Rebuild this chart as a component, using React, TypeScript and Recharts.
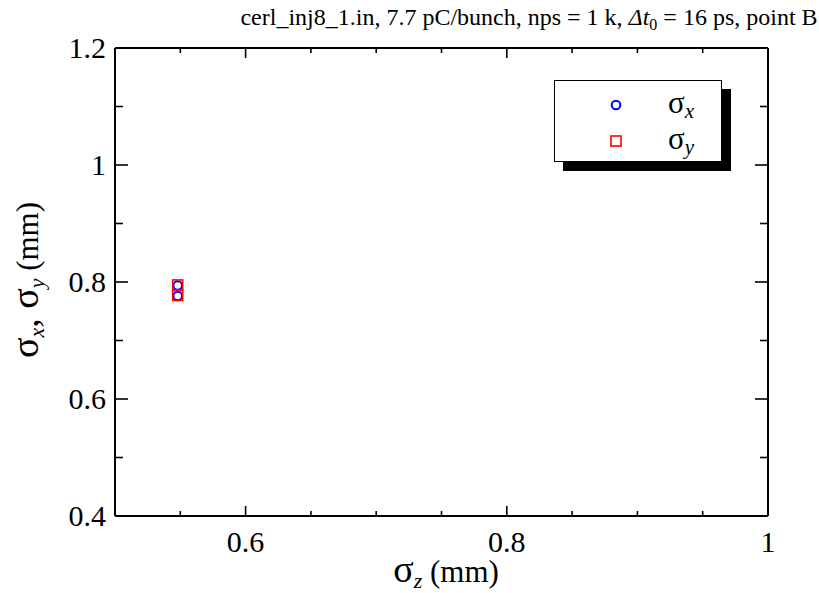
import React from 'react';
import { ScatterChart, Scatter, XAxis, YAxis, ReferenceLine } from 'recharts';

const sigmaZ = [0.548, 0.548];
const sigmaX = [0.794, 0.776];
const sigmaY = [0.795, 0.777];

const xTicks = [0.5, 0.55, 0.6, 0.65, 0.7, 0.75, 0.8, 0.85, 0.9, 0.95, 1.0];
const yTicks = [0.4, 0.5, 0.6, 0.7, 0.8, 0.9, 1.0, 1.1, 1.2];
const xMajor = ['0.6', '0.8', '1'];
const yMajor = ['0.4', '0.6', '0.8', '1', '1.2'];

const dataX = sigmaZ.map((z, i) => ({ z, v: sigmaX[i] }));
const dataY = sigmaZ.map((z, i) => ({ z, v: sigmaY[i] }));

const W = 819;
const H = 593;
const XH = 30;
const YW = 60;
const M = { top: 48, right: 51, bottom: 77 - XH, left: 115 - YW };
const PW = W - 115 - 51;
const PH = H - 48 - 77;
const FONT = '"Liberation Serif", "DejaVu Serif", serif';

const fmt = (v: number) => String(parseFloat(v.toFixed(2)));

const XTick = (props: any) => {
  const { x, y, payload } = props;
  const label = fmt(payload.value);
  const major = xMajor.includes(label);
  const len = major ? 10 : 5;
  return (
    <g>
      <line x1={x} x2={x} y1={y} y2={y - len} stroke="#000" strokeWidth={1.6} />
      <line x1={x} x2={x} y1={y - PH} y2={y - PH + len} stroke="#000" strokeWidth={1.6} />
      {major && (
        <text x={x} y={y + 36} textAnchor="middle" fontFamily={FONT} fontSize={30} fill="#000">
          {label}
        </text>
      )}
    </g>
  );
};

const YTick = (props: any) => {
  const { x, y, payload } = props;
  const label = fmt(payload.value);
  const major = yMajor.includes(label);
  const len = major ? 13 : 8;
  return (
    <g>
      <line x1={x} x2={x + len} y1={y} y2={y} stroke="#000" strokeWidth={1.6} />
      <line x1={x + PW} x2={x + PW - len} y1={y} y2={y} stroke="#000" strokeWidth={1.6} />
      {major && (
        <text x={x - 9} y={y + 10} textAnchor="end" fontFamily={FONT} fontSize={30} fill="#000">
          {label}
        </text>
      )}
    </g>
  );
};

const Circle = (props: any) => {
  const { cx, cy } = props;
  return <circle cx={cx} cy={cy} r={4.3} fill="none" stroke="#0000ff" strokeWidth={2} />;
};

const Square = (props: any) => {
  const { cx, cy } = props;
  return <rect x={cx - 5} y={cy - 5} width={10} height={10} fill="none" stroke="#ff0000" strokeWidth={1.6} />;
};

const LegendBox = () => (
  <div
    style={{
      position: 'absolute',
      left: 554,
      top: 80,
      width: 168,
      height: 82,
      background: '#fff',
      border: '1.5px solid #000',
      boxShadow: '9px 9px 0 #000',
      boxSizing: 'border-box',
    }}
  >
    <svg width={168} height={82} style={{ position: 'absolute', left: -1.5, top: -1.5 }}>
      <circle cx={62} cy={25} r={4.3} fill="none" stroke="#0000ff" strokeWidth={2} />
      <rect x={57} y={56} width={10} height={10} fill="none" stroke="#ff0000" strokeWidth={1.6} />
      <text x={114} y={33} fontFamily={FONT} fontSize={31} fill="#000">
        σ<tspan fontSize={21} fontStyle="italic" dy={5}>x</tspan>
      </text>
      <text x={114} y={69} fontFamily={FONT} fontSize={31} fill="#000">
        σ<tspan fontSize={21} fontStyle="italic" dy={5}>y</tspan>
      </text>
    </svg>
  </div>
);

export default function App() {
  return (
    <div style={{ position: 'absolute', left: 0, top: 0, width: W, height: H, background: '#fff' }}>
      <ScatterChart width={W} height={H} margin={M}>
        <XAxis
          type="number"
          dataKey="z"
          domain={[0.5, 1.0]}
          ticks={xTicks}
          tick={<XTick />}
          tickLine={false}
          tickSize={0}
          tickMargin={0}
          height={XH}
          axisLine={{ stroke: '#000', strokeWidth: 2 }}
          interval={0}
          allowDataOverflow
        />
        <YAxis
          type="number"
          dataKey="v"
          domain={[0.4, 1.2]}
          ticks={yTicks}
          tick={<YTick />}
          tickLine={false}
          tickSize={0}
          tickMargin={0}
          width={YW}
          axisLine={{ stroke: '#000', strokeWidth: 2 }}
          interval={0}
          allowDataOverflow
        />
        <ReferenceLine y={1.2} stroke="#000" strokeWidth={2} />
        <ReferenceLine x={1.0} stroke="#000" strokeWidth={2} />
        <Scatter name="σx" data={dataX} shape={<Circle />} isAnimationActive={false} />
        <Scatter name="σy" data={dataY} shape={<Square />} isAnimationActive={false} />
        <text x={529} y={25} textAnchor="middle" fontFamily={FONT} fontSize={24} fill="#000">
          cerl_inj8_1.in, 7.7 pC/bunch, nps = 1 k,{' '}
          <tspan fontStyle="italic">Δt</tspan>
          <tspan fontSize={16} dy={5}>0</tspan>
          <tspan dy={-5}> = 16 ps, point B</tspan>
        </text>
        <text x={446} y={582} textAnchor="middle" fontFamily={FONT} fill="#000">
          <tspan fontSize={38}>σ</tspan>
          <tspan fontSize={22} fontStyle="italic" dy={6}>z</tspan>
          <tspan fontSize={31} dy={-6}> (mm)</tspan>
        </text>
        <text
          x={38}
          y={280}
          textAnchor="middle"
          fontFamily={FONT}
          fill="#000"
          transform="rotate(-90 38 280)"
        >
          <tspan fontSize={38}>σ</tspan>
          <tspan fontSize={22} fontStyle="italic" dy={6}>x</tspan>
          <tspan fontSize={38} dy={-6}>, σ</tspan>
          <tspan fontSize={22} fontStyle="italic" dy={6}>y</tspan>
          <tspan fontSize={31} dy={-6}> (mm)</tspan>
        </text>
      </ScatterChart>
      <LegendBox />
    </div>
  );
}
